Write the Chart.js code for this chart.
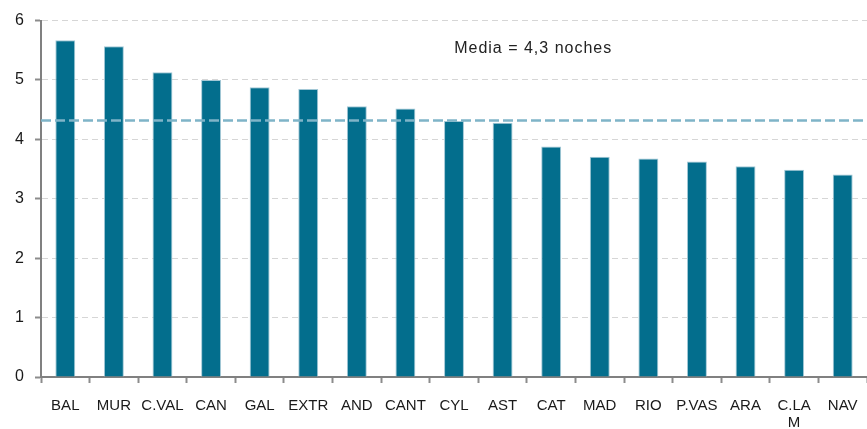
<!DOCTYPE html>
<html>
<head>
<meta charset="utf-8">
<script src="https://cdn.jsdelivr.net/npm/chart.js@4"></script>
<style>
  html, body { margin: 0; padding: 0; background: #fff; }
  #wrap { width: 867px; height: 429px; }
</style>
</head>
<body>
<div id="wrap"><canvas id="chart"></canvas></div>
<script>
// Regiones y noches medias de estancia
const regions = ["BAL", "MUR", "C.VAL", "CAN", "GAL", "EXTR", "AND", "CANT", "CYL",
  "AST", "CAT", "MAD", "RIO", "P.VAS", "ARA", ["C.LA", "M"], "NAV"];
const nights = [5.67, 5.57, 5.13, 5.0, 4.88, 4.85, 4.56, 4.52, 4.31,
  4.28, 3.88, 3.71, 3.68, 3.63, 3.55, 3.49, 3.41];
const meanNights = 4.32;
const meanLabel = "Media = 4,3 noches";
const yTicks = [0, 1, 2, 3, 4, 5, 6];

// Draws the dashed mean line and its label
const meanPlugin = {
  id: "meanLine",
  afterDatasetsDraw(chart) {
    const { ctx, chartArea, scales } = chart;
    const y = scales.y.getPixelForValue(meanNights);
    ctx.save();
    ctx.strokeStyle = "#7fb4c8";
    ctx.lineWidth = 2.5;
    ctx.setLineDash([10, 4]);
    ctx.beginPath();
    ctx.moveTo(chartArea.left, y);
    ctx.lineTo(chartArea.right, y);
    ctx.stroke();
    ctx.setLineDash([]);
    ctx.fillStyle = "#222";
    ctx.font = "16px 'Liberation Sans', Arial, sans-serif";
    if ("letterSpacing" in ctx) ctx.letterSpacing = "1px";
    ctx.textAlign = "center";
    ctx.textBaseline = "middle";
    ctx.fillText(meanLabel, scales.x.getPixelForValue(9.63), scales.y.getPixelForValue(5.53));
    ctx.restore();
  },
};

document.addEventListener("DOMContentLoaded", function () {
  const ctx = document.getElementById("chart").getContext("2d");
  new Chart(ctx, {
    type: "bar",
    data: {
      labels: regions,
      datasets: [
        {
          data: nights,
          backgroundColor: "#036e8d",
          borderColor: "#a3c8d6",
          borderWidth: 1,
          borderSkipped: "bottom",
          barPercentage: 0.41,
          categoryPercentage: 1,
        },
      ],
    },
    options: {
      responsive: true,
      maintainAspectRatio: false,
      animation: false,
      layout: { padding: { top: 18, right: -1.5, left: 0, bottom: 0 } },
      plugins: {
        legend: { display: false },
        tooltip: { enabled: false },
      },
      scales: {
        x: {
          afterFit(scale) {
            scale.height = 52;
            scale.paddingLeft = 0;
            scale.paddingRight = 0;
          },
          grid: {
            display: true,
            drawOnChartArea: false,
            drawTicks: true,
            tickLength: 6,
            tickColor: "#8c8c8c",
            tickWidth: 2,
            offset: true,
          },
          border: { color: "#808080", width: 2 },
          ticks: {
            color: "#1a1a1a",
            padding: 14,
            maxRotation: 0,
            autoSkip: false,
            font: { family: "'Liberation Sans', Arial, sans-serif", size: 15, lineHeight: 1.15 },
          },
        },
        y: {
          min: 0,
          max: 6,
          afterFit(scale) { scale.width = 41; },
          afterBuildTicks(scale) {
            scale.ticks = yTicks.map((v) => ({ value: v }));
          },
          grid: {
            color: "#d6d6d6",
            lineWidth: 1,
            tickLength: 6,
            tickColor: "#8c8c8c",
            tickWidth: 2,
            tickBorderDash: [],
          },
          border: { color: "#808080", width: 2, dash: [6, 4] },
          ticks: {
            color: "#1a1a1a",
            padding: 11,
            font: { family: "'Liberation Sans', Arial, sans-serif", size: 16 },
          },
        },
      },
    },
    plugins: [meanPlugin],
  });
});
</script>
</body>
</html>
